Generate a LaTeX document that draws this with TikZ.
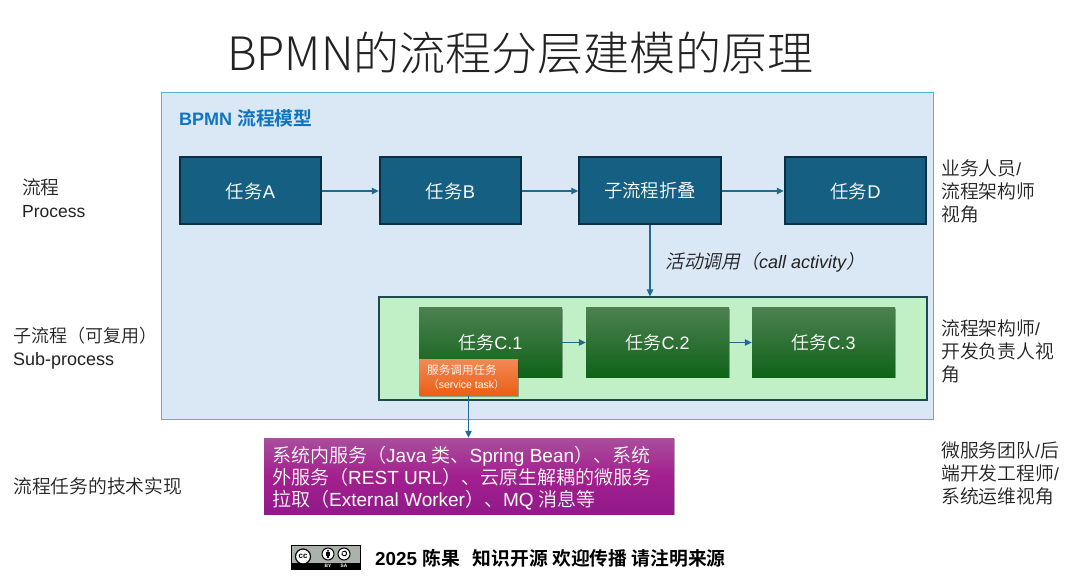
\documentclass[tikz,border=0pt]{standalone}
\usepackage{fontspec}
\setmainfont{Liberation Sans}
\newfontfamily\cjk[UprightFont={* DemiLight},BoldFont={* Bold}]{Noto Sans CJK SC}
\newfontfamily\cjkit[UprightFont={* DemiLight},FakeSlant=0.2]{Noto Sans CJK SC}
\newfontfamily\cjklight[UprightFont={* Light}]{Noto Sans CJK SC}
\newcommand\zh[1]{{\cjk #1}}
\newcommand\zl[1]{{\fontsize{18.8}{23}\selectfont\cjk #1}}
\newcommand\zi[1]{{\fontsize{18.8}{23}\selectfont\cjkit #1}}
\usetikzlibrary{arrows.meta,shadows}
\definecolor{outerfill}{HTML}{DAE7F5}
\definecolor{outerline}{HTML}{4FB3DC}
\definecolor{taskfill}{HTML}{155F82}
\definecolor{taskline}{HTML}{0A3045}
\definecolor{flow}{HTML}{1F6A8F}
\definecolor{framefill}{HTML}{C1EFC6}
\definecolor{frameline}{HTML}{1C4A4F}
\definecolor{labelblue}{HTML}{0F75C0}
\definecolor{txt}{HTML}{222222}
\definecolor{badge}{HTML}{AAB2AB}
\definecolor{greentop}{HTML}{4C8050}
\definecolor{greenmid}{HTML}{0F6318}
\definecolor{orangetop}{HTML}{F28855}
\definecolor{orangebot}{HTML}{EA5F14}
\definecolor{purpletop}{HTML}{A94E9C}
\definecolor{purplemid}{HTML}{A3208F}
\definecolor{purplebot}{HTML}{92198A}
\tikzset{
  boxbase/.style={rectangle,inner sep=0pt,align=center,text=white},
  softshadow/.style={general shadow={shadow xshift=0.5pt,shadow yshift=-1.2pt,fill=black,opacity=0.3}},
  taskbox/.style={boxbase,draw=taskline,line width=2pt,fill=taskfill,minimum width=141.5pt,minimum height=67pt,font=\fontsize{18.4}{22}\selectfont},
  greenbox/.style={boxbase,minimum width=143pt,minimum height=69pt,top color=greentop,bottom color=greenmid,softshadow,font=\fontsize{18}{22}\selectfont},
  sidelabel/.style={anchor=west,inner sep=0pt,align=left,text=txt,font=\fontsize{17.5}{23}\selectfont},
  flowline/.style={draw=flow,line width=1.1pt,-{Triangle[length=7pt,width=6.5pt]}},
}
\begin{document}
\begin{tikzpicture}[x=1pt,y=-1pt]
\useasboundingbox (0,0) rectangle (1080,580);
\fill[white] (0,0) rectangle (1080,580);
\node[inner sep=0pt,text=txt,font=\fontsize{46}{50}\selectfont\cjklight] (title) at (520.5,53) {BPMN的流程分层建模的原理};
\node[rectangle,draw=outerline,line width=1pt,fill=outerfill,minimum width=772pt,minimum height=326pt,inner sep=0pt] (outer) at (547,256) {};
\node[anchor=west,inner sep=0pt,text=labelblue,font=\fontsize{18}{20}\selectfont\bfseries] (modellabel) at (179,118) {BPMN \zl{\bfseries 流程模型}};
\node[taskbox] (ta) at (250.5,191) {\raisebox{-1pt}{\zh{任务}A}};
\node[taskbox] (tb) at (450.5,191) {\raisebox{-1pt}{\zh{任务}B}};
\node[taskbox] (tsub) at (650,191) {\raisebox{-1pt}{\zh{子流程折叠}}};
\node[taskbox] (td) at (855.5,191) {\raisebox{-1pt}{\zh{任务}D}};
\node[rectangle,draw=frameline,line width=1.2pt,fill=framefill,minimum width=548pt,minimum height=103pt,inner sep=0pt] (frame) at (653,348.5) {};
\node[greenbox] (c1) at (490.5,342.5) {\raisebox{-1pt}{\zh{任务}C.1}};
\node[greenbox] (c2) at (657.5,342.5) {\raisebox{-1pt}{\zh{任务}C.2}};
\node[greenbox] (c3) at (823.5,342.5) {\raisebox{-1pt}{\zh{任务}C.3}};
\node[boxbase,minimum width=99pt,minimum height=36pt,top color=orangetop,bottom color=orangebot,softshadow,font=\fontsize{11.6}{14}\selectfont] (svc) at (468.5,377.5) {\zh{服务调用任务}\hspace*{13pt}\\\fontsize{10.5}{14}\selectfont\zh{（}service task\zh{）}\hspace*{4pt}};
\node[rectangle,inner sep=0pt,minimum width=410pt,minimum height=76pt,top color=purpletop,bottom color=purplebot,middle color=purplemid,softshadow] (impl) at (469,476) {};
\node[anchor=west,inner sep=0pt,align=left,text=white,font=\fontsize{19}{22}\selectfont] (impltext) at (272,478.5) {\zh{系统内服务（}Java \zh{类、}Spring Bean\zh{）、系统}\\\zh{外服务（}REST URL\zh{）、云原生解耦的微服务}\\\zh{拉取（}External Worker\zh{）、}MQ \zh{消息等}};
\draw[flowline] (ta.east) -- (tb.west);
\draw[flowline] (tb.east) -- (tsub.west);
\draw[flowline] (tsub.east) -- (td.west);
\draw[flowline] (c1.east) -- (c2.west);
\draw[flowline] (c2.east) -- (c3.west);
\draw[flowline] (tsub.south) -- (tsub.south |- frame.north);
\draw[flowline] (svc.south) -- (svc.south |- impl.north);
\node[anchor=west,inner sep=0pt,text=txt,font=\fontsize{18}{22}\selectfont\itshape] (calllabel) at (665,262) {\zi{活动调用（}call activity\zi{）}};
\node[sidelabel] (l1) at (22,198) {\zl{流程}\\Process};
\node[sidelabel] (l2) at (13,348.5) {{\fontsize{18}{23}\selectfont\cjk 子流程（可复用）}\\{\fontsize{18}{23}\selectfont Sub-process}};
\node[sidelabel] (l3) at (13,486) {\zl{流程任务的技术实现}};
\node[sidelabel] (r1) at (941,191) {\zl{业务人员}/\\\zl{流程架构师}\\\zl{视角}};
\node[sidelabel] (r2) at (941,351.5) {\zl{流程架构师}/\\\zl{开发负责人视}\\\zl{角}};
\node[sidelabel] (r3) at (941,473.5) {\zl{微服务团队}/\zl{后}\\\zl{端开发工程师}/\\\zl{系统运维视角}};
% licence badge
\fill[black] (291,545) rectangle (361,569.5);
\fill[badge] (291.7,545.7) rectangle (360.3,563);
\draw[black,line width=1.2pt,fill=white] (303,556.5) circle (7.5);
\node[inner sep=0pt,font=\fontsize{8}{8}\selectfont\bfseries] (cc) at (303,556) {cc};
\draw[black,line width=1pt,fill=white] (328,554) circle (6);
\fill[black] (328,550.8) circle (1.1);
\fill[black] (326.4,552.4) rectangle (329.6,555.8);
\fill[black] (327.2,555.8) rectangle (328.8,558.4);
\draw[black,line width=1pt,fill=white] (344,554) circle (6);
\draw[black,line width=1pt] (342,552.6) arc[start angle=200,end angle=-140,radius=2.4];
\node[inner sep=0pt,text=white,font=\fontsize{4.8}{5}\selectfont\bfseries] (by) at (328,566.3) {BY};
\node[inner sep=0pt,text=white,font=\fontsize{4.8}{5}\selectfont\bfseries] (sa) at (344,566.3) {SA};
\node[anchor=west,inner sep=0pt,text=black,font=\fontsize{18.8}{22}\selectfont\bfseries] (footer) at (375,558) {2025 \zh{陈果}\hspace{13pt}\zh{知识开源 欢迎传播 请注明来源}};
\end{tikzpicture}
\end{document}
